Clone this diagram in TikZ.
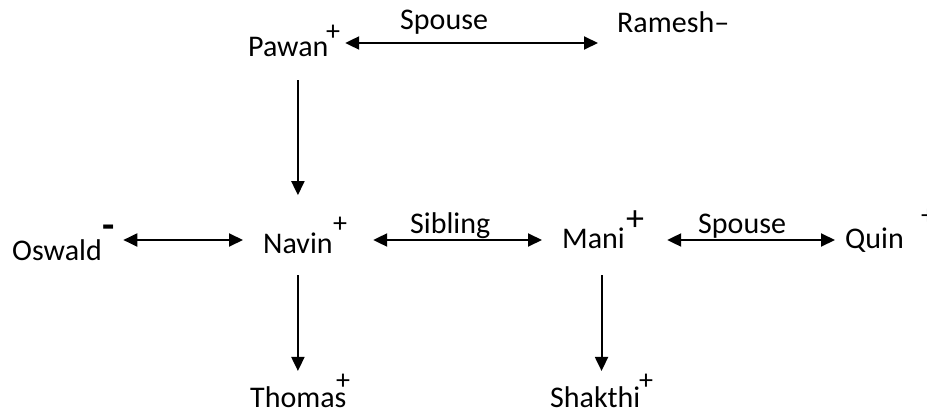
\documentclass[tikz,border=0pt]{standalone}
\usepackage{fontspec}
\setmainfont{Carlito}
\usetikzlibrary{arrows.meta}
\begin{document}
\begin{tikzpicture}[x=1pt,y=-1pt,
    every node/.style={inner sep=0pt,font=\fontsize{30}{36}\selectfont},
    person/.style={anchor=base west},
    sign/.style={anchor=base,font=\fontsize{28}{32}\selectfont},
    link/.style={line width=2pt,{Triangle[length=14pt,width=13pt]}-{Triangle[length=14pt,width=13pt]}},
    parentof/.style={line width=2pt,-{Triangle[length=14pt,width=13pt]}}]
  \useasboundingbox (0,0) rectangle (927,412);
  \draw
    (248,57) node[person] (pawan){Pawan}
    (333,41) node[sign] (pawans){+}
    (617,33) node[person] (ramesh){Ramesh–}
    (400,30) node[person] (spouse1){Spouse}
    (12,260) node[person] (oswald){Oswald}
    (109,238) node[sign,font=\fontsize{40}{40}\selectfont\bfseries] (oswalds){-}
    (263,253) node[person] (navin){Navin}
    (340,232) node[sign] (navins){+}
    (410,233) node[person] (sibling){Sibling}
    (562,248) node[person] (mani){Mani}
    (635,230) node[sign,font=\fontsize{36}{40}\selectfont] (manis){+}
    (698,233) node[person] (spouse2){Spouse}
    (845,248) node[person] (quin){Quin}
    (928,224) node[sign] (quins){+}
    (250,407) node[person] (thomas){Thomas}
    (343,389) node[sign] (thomass){+}
    (550,407) node[person] (shakthi){Shakthi}
    (646,389) node[sign] (shakthis){+};
  \coordinate (toprow) at (0,43);
  \coordinate (midrow) at (0,240);
  % spouses and siblings
  \begin{scope}[link]
    \draw[shorten <=5pt,shorten >=19pt] (pawans.east |- toprow) to (ramesh.west |- toprow);
    \draw[shorten <=8pt,shorten >=20pt] (oswalds.east |- midrow) to (navin.west |- midrow);
    \draw[shorten <=26pt,shorten >=20pt] (navins.east |- midrow) to (mani.west |- midrow);
    \draw[shorten <=23pt,shorten >=10pt] (manis.east |- midrow) to (quin.west |- midrow);
  \end{scope}
  % children
  \begin{scope}[parentof]
    \draw[shorten <=23pt,shorten >=37pt] (pawan.south -| navin.north) to (navin.north);
    \draw[shorten <=22pt,shorten >=15pt] (navin.south) to (navin.south |- thomas.north);
    \draw[shorten <=27pt,shorten >=15pt] ([xshift=8pt]mani.south) to ([xshift=8pt]mani.south |- shakthi.north);
  \end{scope}
\end{tikzpicture}
\end{document}
